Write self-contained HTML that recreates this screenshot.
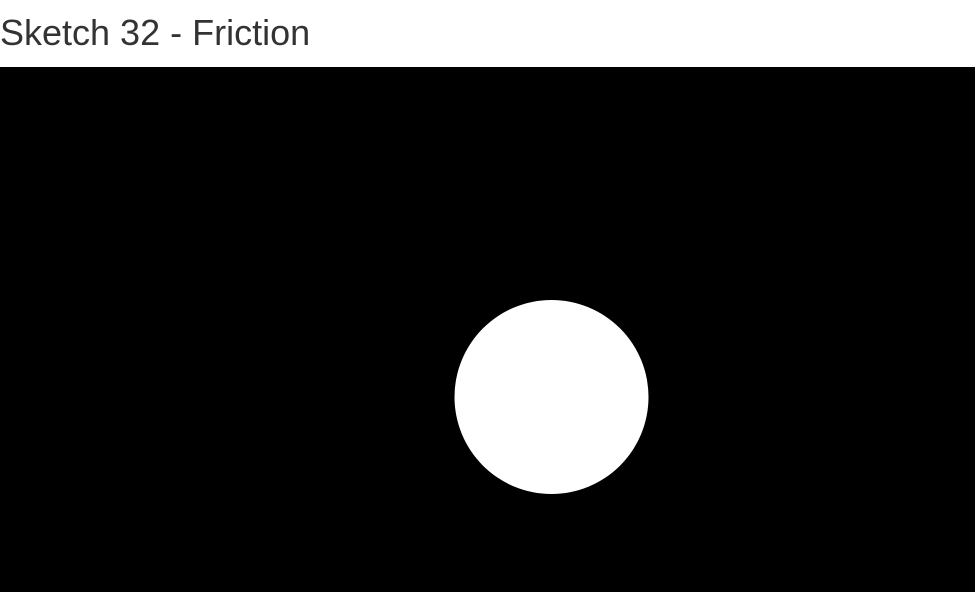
<!DOCTYPE html>
<html><head><style>
body{margin:0;width:977px;height:601px;background:#fff;overflow:hidden;position:relative}
h1{position:absolute;left:0;top:13px;margin:0;font:400 36px/40px "Liberation Sans",sans-serif;color:#333;white-space:nowrap}
svg{position:absolute;left:0;top:67px}
</style></head><body>
<h1>Sketch 32 - Friction</h1>
<svg width="975" height="525">
<rect width="975" height="525" fill="#000"/>
<circle cx="551.5" cy="330" r="97" fill="#fff"/>
</svg>
</body></html>
